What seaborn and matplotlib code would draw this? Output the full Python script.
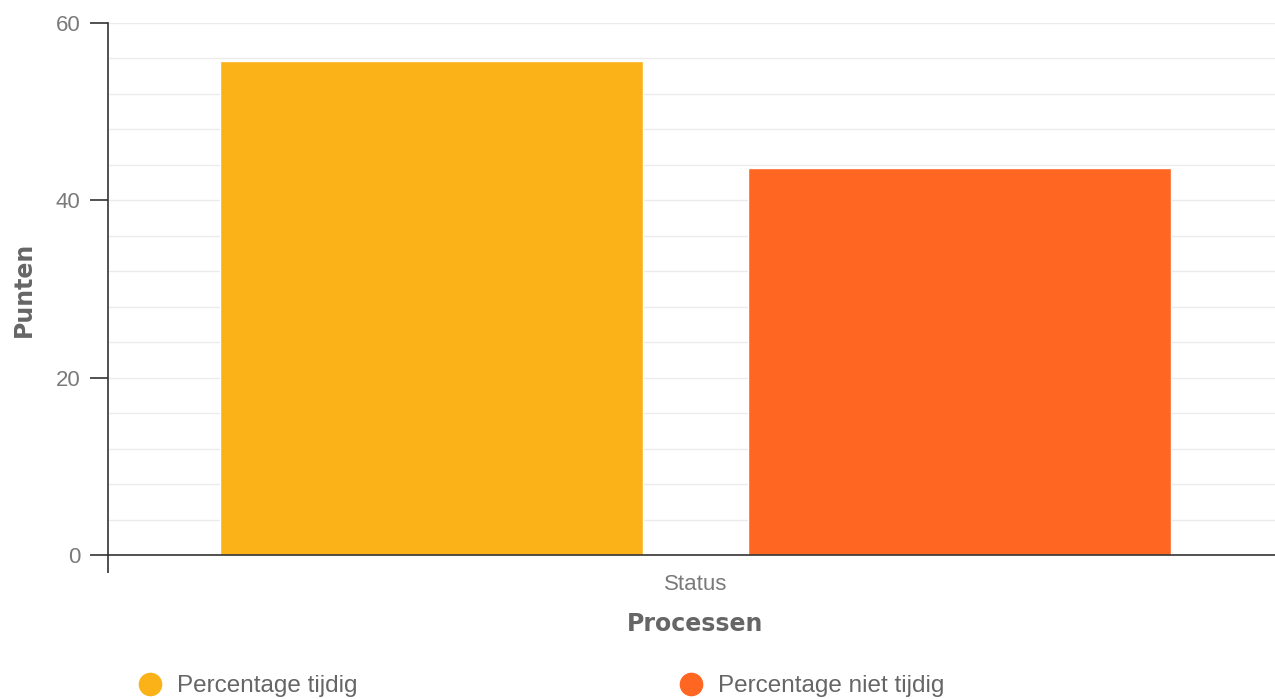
import pandas as pd
import matplotlib
matplotlib.use('Agg')
import matplotlib.pyplot as plt
from matplotlib.lines import Line2D
from matplotlib.ticker import MultipleLocator
import seaborn as sns

# data
processen = ['Status']
reeksen = ['Percentage tijdig', 'Percentage niet tijdig']
punten = [55.7, 43.7]
kleuren = ['#FBB218', '#FF6622']

df = pd.DataFrame({'Processen': processen * len(reeksen),
                   'reeks': reeksen,
                   'Punten': punten})

sns.set_style('white')
plt.rcParams['font.family'] = ['Liberation Sans', 'DejaVu Sans']

fig = plt.figure(figsize=(12.75, 6.99), dpi=100)
ax = fig.add_axes([108/1275, 1 - 555/699, 1175/1275, 532/699])

sns.barplot(data=df, x='Processen', y='Punten', hue='reeks', hue_order=reeksen,
            palette=kleuren, width=0.9, gap=0.2, saturation=1, legend=False, ax=ax)

ax.set_xlim(-0.5, 0.5)
ax.set_ylim(0, 60)
ax.yaxis.set_major_locator(MultipleLocator(20))
ax.yaxis.set_minor_locator(MultipleLocator(4))
ax.grid(axis='y', which='both', color='#ebebeb', lw=1)
ax.set_axisbelow(True)

sns.despine(ax=ax)
for s in ['left', 'bottom']:
    ax.spines[s].set_color('#333333')
    ax.spines[s].set_linewidth(1.2)

ax.tick_params(axis='y', which='major', length=13, width=1.2, color='#333333',
               pad=7, labelsize=16, labelcolor='#7a7a7a', left=True)
ax.tick_params(axis='y', which='minor', length=0)
ax.tick_params(axis='x', which='major', length=0, pad=14, labelsize=16,
               labelcolor='#7a7a7a')
# small downward stub of the y axis below zero
ax.set_xticks([-0.5], minor=True)
ax.tick_params(axis='x', which='minor', length=13, width=1.2, color='#333333',
               direction='out', bottom=True)

ax.set_xlabel('Processen', fontsize=17, fontweight='bold', color='#666666',
              family='DejaVu Sans', labelpad=12)
ax.set_ylabel('Punten', fontsize=17, fontweight='bold', color='#666666',
              family='DejaVu Sans', labelpad=14)

handles = [Line2D([], [], ls='', marker='o', markersize=16, color=c) for c in kleuren]
fig.legend(handles, reeksen, loc='center left', bbox_to_anchor=(138/1275, 1 - 686/699),
           ncol=2, frameon=False, fontsize=17.5, labelcolor='#666666',
           handlelength=1, handletextpad=0.62, columnspacing=13.2,
           borderpad=0, borderaxespad=0)

fig.savefig('out.png', dpi=100)
